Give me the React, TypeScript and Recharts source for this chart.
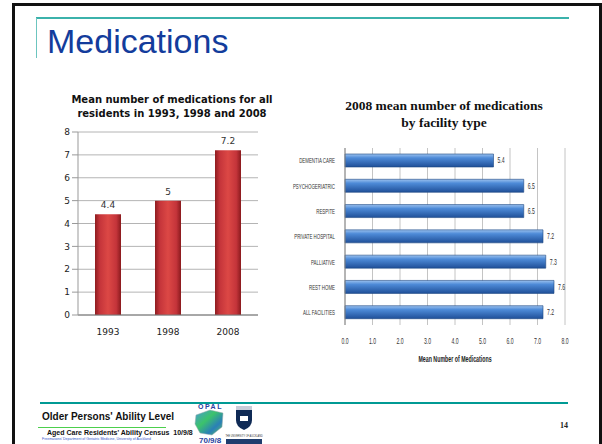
import { BarChart, Bar, XAxis, YAxis, CartesianGrid, LabelList } from 'recharts'

const years = ['1993', '1998', '2008']
const yearMeans = [4.4, 5, 7.2]
const leftTicks = [0, 1, 2, 3, 4, 5, 6, 7, 8]

const facilities = [
  'DEMENTIA CARE',
  'PSYCHOGERIATRIC',
  'RESPITE',
  'PRIVATE HOSPITAL',
  'PALLIATIVE',
  'REST HOME',
  'ALL FACILITIES',
]
const facilityMeans = [5.4, 6.5, 6.5, 7.2, 7.3, 7.6, 7.2]
const rightTicks = [0, 1, 2, 3, 4, 5, 6, 7, 8]

const yearData = years.map((year, i) => ({ year, value: yearMeans[i] }))
const facilityData = facilities.map((name, i) => ({ name, value: facilityMeans[i] }))

const narrow = 'Liberation Sans, Arial, sans-serif'

function CategoryTick(props: any) {
  const { x, y, payload } = props
  return (
    <g transform={`translate(${x - 2},${y})`}>
      <text transform="scale(0.55,1)" textAnchor="end" dy="0.35em" fontSize={8} fontFamily={narrow} fill="#333">
        {payload.value}
      </text>
    </g>
  )
}

function ValueTick(props: any) {
  const { x, y, payload } = props
  return (
    <g transform={`translate(${x},${y + 5})`}>
      <text transform="scale(0.6,1)" textAnchor="middle" dy="0.71em" fontSize={8.5} fontFamily={narrow} fill="#333">
        {Number(payload.value).toFixed(1)}
      </text>
    </g>
  )
}

function ValueLabel(props: any) {
  const { x, y, width, height, value } = props
  return (
    <g transform={`translate(${x + width + 4},${y + height / 2})`}>
      <text transform="scale(0.6,1)" dy="0.35em" fontSize={8.5} fontFamily={narrow} fill="#333">
        {value}
      </text>
    </g>
  )
}

function AxisTitle(props: any) {
  const { viewBox } = props
  const { x, y, width, height } = viewBox
  return (
    <g transform={`translate(${x + width / 2},${y + height})`}>
      <text transform="scale(0.62,1)" textAnchor="middle" fontSize={8.5} fontWeight="bold" fontFamily={narrow} fill="#222">
        Mean Number of Medications
      </text>
    </g>
  )
}

function OpalLogo() {
  return (
    <svg width={34} height={42} style={{ position: 'absolute', left: 192, top: 402 }}>
      <defs>
        <linearGradient id="opal" x1="0" y1="0" x2="1" y2="1">
          <stop offset="0%" stopColor="#4a9ad8" />
          <stop offset="40%" stopColor="#3cc36b" />
          <stop offset="70%" stopColor="#2a7fb8" />
          <stop offset="100%" stopColor="#5bc85a" />
        </linearGradient>
      </defs>
      <text x={6} y={7} fontSize={7} fontWeight="bold" fill="#2a3fa0" fontFamily={narrow} letterSpacing={1.5}>OPAL</text>
      <path d="M4 13 L18 8 L31 11 L30 25 L20 33 L8 31 L3 22 Z" fill="url(#opal)" stroke="#9aa" strokeWidth={0.5} />
      <text x={7} y={41} fontSize={8} fontWeight="bold" fill="#2a3fa0" fontFamily={narrow}>70/9/8</text>
    </svg>
  )
}

function UniLogo() {
  return (
    <svg width={60} height={40} style={{ position: 'absolute', left: 214, top: 404 }}>
      <rect x={22} y={2} width={16} height={4} fill="#c8ccd8" />
      <path d="M22 6 L38 6 L38 16 Q38 23 30 26 Q22 23 22 16 Z" fill="#0f2a55" />
      <rect x={26} y={12} width={8} height={5} fill="#fff" />
      <g transform="translate(30,33)">
        <text transform="scale(0.6,1)" textAnchor="middle" fontSize={4} fill="#333" fontFamily={narrow}>
          THE UNIVERSITY OF AUCKLAND
        </text>
      </g>
      <rect x={12} y={35} width={36} height={5} fill="#1f3d6e" />
    </svg>
  )
}

export default function App() {
  return (
    <div style={{ position: 'absolute', left: 0, top: 0, width: 602, height: 444, overflow: 'hidden', background: '#fff' }}>
      <div style={{ position: 'absolute', left: 12, top: 3, width: 590, height: 441, boxSizing: 'border-box', border: '3px solid #111', borderBottom: 'none' }} />

      <div style={{ position: 'absolute', left: 36, top: 17, width: 533, height: 2, background: '#3bb2ab' }} />
      <div style={{ position: 'absolute', left: 36, top: 18, width: 1, height: 40, background: '#6cc5bf' }} />
      <div style={{ position: 'absolute', left: 47, top: 21, fontFamily: narrow, fontSize: 34, color: '#133c9c', lineHeight: '40px' }}>
        Medications
      </div>

      <div style={{ position: 'absolute', left: 52, top: 93, width: 240, textAlign: 'center', fontFamily: 'DejaVu Sans, Verdana, sans-serif', fontWeight: 'bold', fontSize: 10, lineHeight: '14px', color: '#111' }}>
        Mean number of medications for all<br />residents in 1993, 1998 and 2008
      </div>

      <div style={{ position: 'absolute', left: 30, top: 120 }}>
        <BarChart width={240} height={225} data={yearData} margin={{ top: 12, right: 12, left: 0, bottom: 10 }}>
          <defs>
            <linearGradient id="redBar" x1="0" y1="0" x2="1" y2="0">
              <stop offset="0%" stopColor="#8e1c1f" />
              <stop offset="18%" stopColor="#c4343a" />
              <stop offset="50%" stopColor="#dc4845" />
              <stop offset="82%" stopColor="#c4343a" />
              <stop offset="100%" stopColor="#8a1a1d" />
            </linearGradient>
          </defs>
          <CartesianGrid vertical={false} stroke="#b4b4b4" />
          <XAxis dataKey="year" height={20} tickLine={false} axisLine={{ stroke: '#777' }} tickMargin={8}
            tick={{ fontSize: 9, fill: '#222', fontFamily: 'DejaVu Sans, Verdana, sans-serif' }} />
          <YAxis width={48} domain={[0, 8]} ticks={leftTicks} interval={0} axisLine={{ stroke: '#999' }} tickLine={{ stroke: '#999' }}
            tick={{ fontSize: 9, fill: '#222', fontFamily: 'DejaVu Sans, Verdana, sans-serif' }} />
          <Bar dataKey="value" fill="url(#redBar)" barSize={26} isAnimationActive={false}>
            <LabelList dataKey="value" position="top" offset={6} fontSize={9} fill="#333" fontFamily="DejaVu Sans, Verdana, sans-serif" />
          </Bar>
        </BarChart>
      </div>

      <div style={{ position: 'absolute', left: 320, top: 97, width: 248, textAlign: 'center', fontFamily: 'Liberation Serif, serif', fontWeight: 'bold', fontSize: 13.5, lineHeight: '17px', color: '#111' }}>
        2008 mean number of medications<br />by facility type
      </div>

      <div style={{ position: 'absolute', left: 270, top: 140 }}>
        <BarChart width={320} height={222} data={facilityData} layout="vertical" margin={{ top: 8, right: 25, left: 0, bottom: 0 }}>
          <defs>
            <linearGradient id="blueBar" x1="0" y1="0" x2="0" y2="1">
              <stop offset="0%" stopColor="#9cc2ef" />
              <stop offset="30%" stopColor="#4e8bd8" />
              <stop offset="100%" stopColor="#1f4f98" />
            </linearGradient>
          </defs>
          <CartesianGrid horizontal={false} stroke="#c4c4c4" />
          <XAxis type="number" domain={[0, 8]} ticks={rightTicks} interval={0} height={37} axisLine={false} tickLine={false}
            tick={<ValueTick />} label={<AxisTitle />} />
          <YAxis type="category" dataKey="name" width={75} axisLine={{ stroke: '#888' }} tickLine={false} tick={<CategoryTick />} />
          <Bar dataKey="value" fill="url(#blueBar)" stroke="#1c4682" strokeWidth={0.6} barSize={13} isAnimationActive={false}>
            <LabelList dataKey="value" content={<ValueLabel />} />
          </Bar>
        </BarChart>
      </div>

      <div style={{ position: 'absolute', left: 40, top: 402, width: 528, height: 2, background: '#009a94' }} />
      <div style={{ position: 'absolute', left: 42, top: 411, fontFamily: narrow, fontWeight: 'bold', fontSize: 10, color: '#111', whiteSpace: 'nowrap' }}>
        Older Persons' Ability Level
      </div>
      <div style={{ position: 'absolute', left: 38, top: 427, width: 128, height: 1, background: '#4ccf4c' }} />
      <div style={{ position: 'absolute', left: 47, top: 429, fontFamily: narrow, fontWeight: 'bold', fontSize: 7, color: '#111', whiteSpace: 'nowrap' }}>
        Aged Care Residents' Ability Census&nbsp;&nbsp;10/9/8
      </div>
      <div style={{ position: 'absolute', left: 42, top: 437, fontFamily: narrow, fontSize: 3.5, color: '#3355cc', whiteSpace: 'nowrap' }}>
        Freemasons' Department of Geriatric Medicine, University of Auckland
      </div>
      <OpalLogo />
      <UniLogo />
      <div style={{ position: 'absolute', left: 560, top: 421, fontFamily: 'Liberation Serif, serif', fontWeight: 'bold', fontSize: 8, color: '#222' }}>
        14
      </div>
    </div>
  )
}
